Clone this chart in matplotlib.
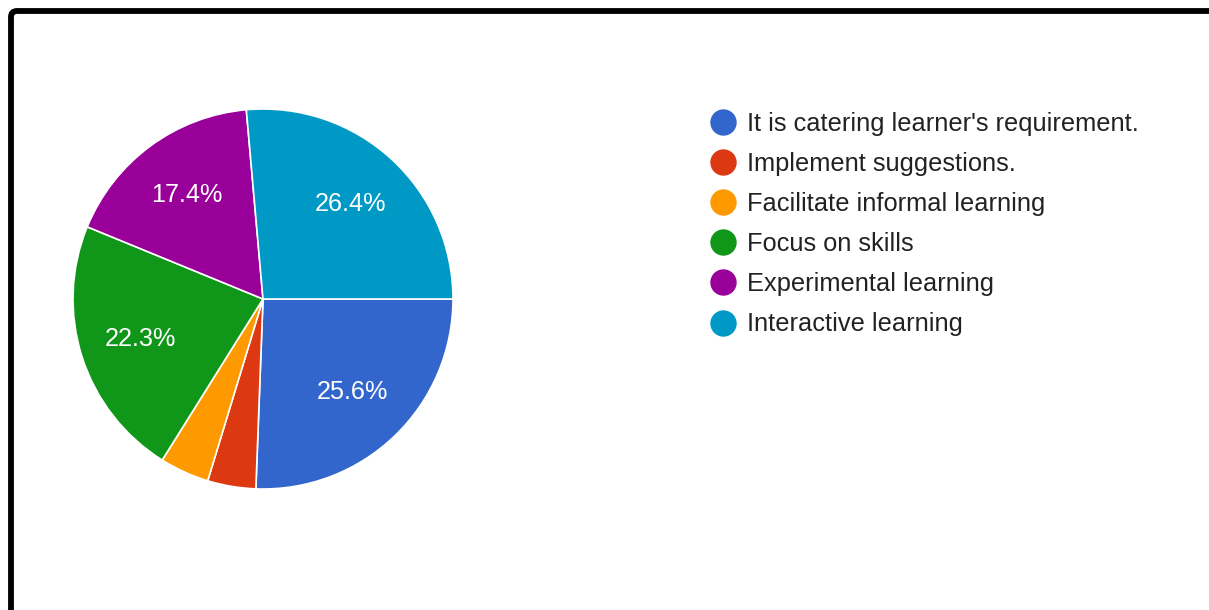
import matplotlib.pyplot as plt
from matplotlib.patches import FancyBboxPatch

# survey answers, share of respondents in percent
labels = ["It is catering learner's requirement.",
          "Implement suggestions.",
          "Facilitate informal learning",
          "Focus on skills",
          "Experimental learning",
          "Interactive learning"]
shares = [25.6, 4.1, 4.2, 22.3, 17.4, 26.4]
colors = ["#3366cc", "#dc3912", "#ff9900", "#109618", "#990099", "#0099c6"]

plt.rcParams['font.family'] = ['Liberation Sans', 'DejaVu Sans']

W, H = 1209, 610
fig = plt.figure(figsize=(W / 100, H / 100), dpi=100)
ax = fig.add_axes([0, 0, 1, 1])


def pct_label(p):
    # small slices get no label
    return f"{p:.1f}%" if p > 5 else ""


wedges, _, autotexts = ax.pie(
    shares, colors=colors, startangle=0, counterclock=False,
    center=(263, H - 299), radius=190, autopct=pct_label, pctdistance=0.68,
    wedgeprops=dict(edgecolor="white", linewidth=1.2),
    textprops=dict(color="white", fontsize=18.2), frame=True)

# legend with round markers
for i, (lab, col) in enumerate(zip(labels, colors)):
    y = H - (122 + 40.1 * i)
    ax.scatter([723], [y], s=18 ** 2, color=col, zorder=3)
    ax.text(747, y - 2, lab, fontsize=18.3, color="#222222",
            va="center", ha="left")

# black border around the chart
ax.add_patch(FancyBboxPatch((11, -60), 1300, H - 11 + 60,
                            boxstyle="round,pad=0,rounding_size=6",
                            facecolor="none", edgecolor="black", linewidth=4.2))

ax.set_xlim(0, W)
ax.set_ylim(0, H)
ax.set_aspect("equal")
ax.axis("off")

fig.savefig("out.png", dpi=100)
